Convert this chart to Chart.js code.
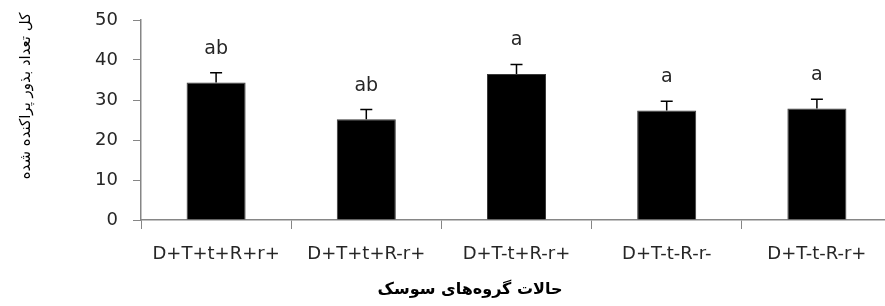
<!DOCTYPE html>
<html>
<head>
<meta charset="utf-8">
<script src="https://cdn.jsdelivr.net/npm/chart.js@4.4.1/dist/chart.umd.min.js"></script>
<style>
  html, body { margin: 0; padding: 0; background: #fff; overflow: hidden; }
  #wrap { width: 892px; height: 306px; }
</style>
</head>
<body>
<div id="wrap"><canvas id="beetleChart" width="892" height="306"></canvas></div>
<script>
// groups of beetles and the mean number of dispersed seeds
const groups = ['D+T+t+R+r+', 'D+T+t+R-r+', 'D+T-t+R-r+', 'D+T-t-R-r-', 'D+T-t-R-r+'];
const seedMeans = [34.4, 25.2, 36.5, 27.4, 27.9];
const seedErrors = [2.4, 2.4, 2.4, 2.3, 2.3];
const groupLetters = ['ab', 'ab', 'a', 'a', 'a'];
const yTicks = [0, 10, 20, 30, 40, 50];

const yTitle = 'کل تعداد بذور پراکنده شده';
const xTitle = 'حالات گروه‌های سوسک';

const axisGrey = '#868686';
const textColor = '#262626';

// error bars + significance letters on top of each bar
const errorBarPlugin = {
  id: 'errorBars',
  afterDatasetsDraw(chart) {
    const ctx = chart.ctx;
    const x = chart.scales.x;
    const y = chart.scales.y;
    ctx.save();
    ctx.strokeStyle = '#000';
    ctx.lineWidth = 1.5;
    ctx.fillStyle = textColor;
    ctx.font = '19px "DejaVu Sans"';
    ctx.textAlign = 'center';
    ctx.textBaseline = 'alphabetic';
    seedMeans.forEach((m, i) => {
      const cx = x.getPixelForValue(i);
      const yMean = y.getPixelForValue(m);
      const yTop = y.getPixelForValue(m + seedErrors[i]);
      ctx.beginPath();
      ctx.moveTo(cx, yMean);
      ctx.lineTo(cx, yTop);
      ctx.moveTo(cx - 6, yTop);
      ctx.lineTo(cx + 6, yTop);
      ctx.stroke();
      ctx.fillText(groupLetters[i], cx, yTop - 19);
    });
    ctx.restore();
  }
};

// axis titles placed like in the original figure
const titlesPlugin = {
  id: 'axisTitles',
  afterDraw(chart) {
    const ctx = chart.ctx;
    ctx.save();
    ctx.fillStyle = '#000';
    ctx.textAlign = 'center';
    ctx.textBaseline = 'middle';
    ctx.direction = 'rtl';

    ctx.font = '15px "DejaVu Sans"';
    ctx.translate(26, 96);
    ctx.rotate(-Math.PI / 2);
    ctx.fillText(yTitle, 0, 0);
    ctx.setTransform(1, 0, 0, 1, 0, 0);

    ctx.font = 'bold 16px "DejaVu Sans"';
    ctx.fillText(xTitle, 470, 290);
    ctx.restore();
  }
};

new Chart(document.getElementById('beetleChart'), {
  type: 'bar',
  data: {
    labels: groups,
    datasets: [{
      data: seedMeans,
      backgroundColor: '#000',
      borderColor: '#3a3a3a',
      borderWidth: 1,
      categoryPercentage: 0.393,
      barPercentage: 1
    }]
  },
  options: {
    responsive: false,
    animation: false,
    layout: { padding: { left: 0, right: 0, top: 20, bottom: 0 } },
    plugins: {
      legend: { display: false },
      tooltip: { enabled: false }
    },
    scales: {
      x: {
        grid: {
          offset: true,
          drawOnChartArea: false,
          drawTicks: true,
          tickLength: 9,
          color: axisGrey,
          tickColor: axisGrey
        },
        border: { color: axisGrey, width: 1.5 },
        ticks: {
          color: textColor,
          font: { family: 'DejaVu Sans', size: 18 },
          padding: 15,
          maxRotation: 0,
          autoSkip: false
        },
        afterFit(scale) {
          scale.height = 86;
          scale.paddingLeft = 0;
          scale.paddingRight = 0;
        }
      },
      y: {
        min: 0,
        max: 50,
        afterBuildTicks(scale) { scale.ticks = yTicks.map(v => ({ value: v })); },
        grid: {
          drawOnChartArea: false,
          drawTicks: true,
          tickLength: 8,
          color: axisGrey,
          tickColor: axisGrey
        },
        border: { color: axisGrey, width: 1.5 },
        ticks: {
          color: textColor,
          font: { family: 'DejaVu Sans', size: 18 },
          padding: 15
        },
        afterFit(scale) {
          scale.width = 141;
          scale.paddingTop = 0;
          scale.paddingBottom = 0;
        }
      }
    }
  },
  plugins: [errorBarPlugin, titlesPlugin]
});
</script>
</body>
</html>
